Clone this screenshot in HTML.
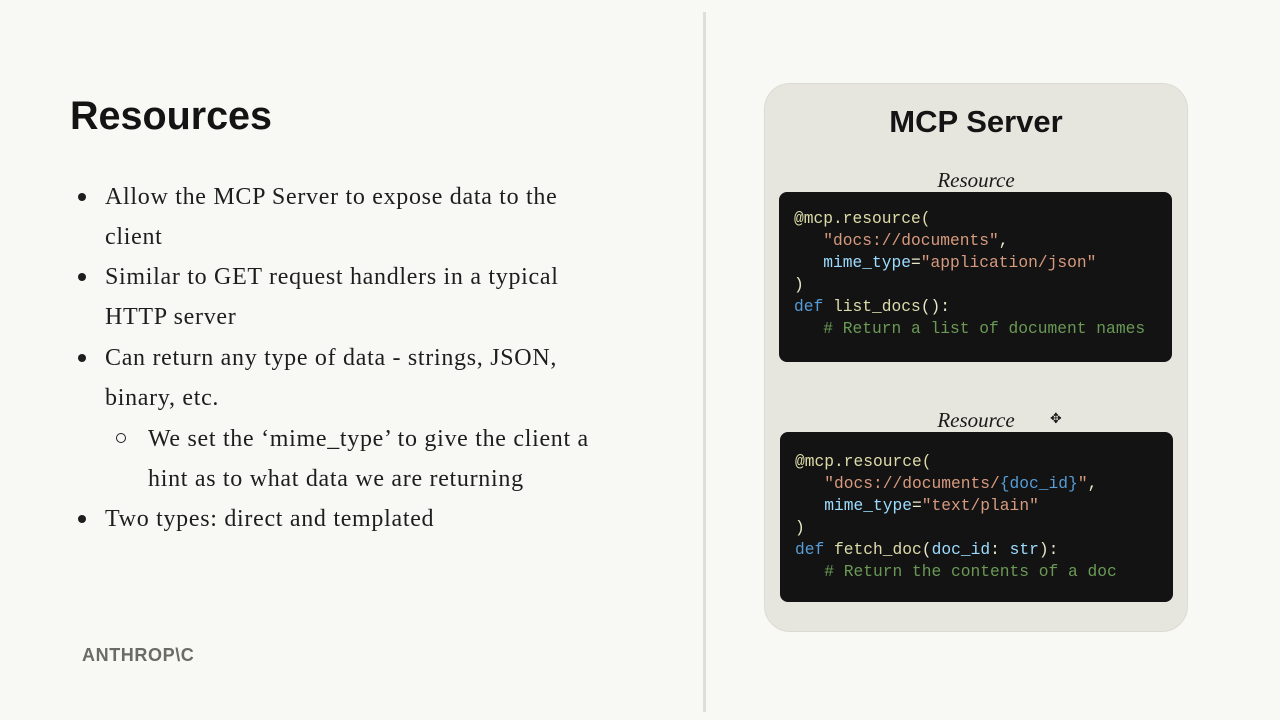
<!DOCTYPE html>
<html><head><meta charset="utf-8"><style>
*{margin:0;padding:0;box-sizing:border-box}
body{width:1280px;height:720px;background:#f8f9f5;position:relative;overflow:hidden;font-family:"Liberation Serif",serif;color:#1a1a1a}
.abs{position:absolute}
h1{position:absolute;left:70px;top:94px;font:bold 39.5px "Liberation Sans",sans-serif;color:#141414}
.li{position:absolute;font-size:24px;letter-spacing:0.7px;line-height:40px;color:#1e1e1e;white-space:nowrap}
.dot{position:absolute;width:8px;height:8px;border-radius:50%;background:#1e1e1e}
.ring{position:absolute;width:10px;height:10px;border-radius:50%;border:1.5px solid #1e1e1e}
.panel{left:764px;top:83px;width:424px;height:549px;background:#e6e5de;border-radius:26px;border:1px solid #dcdbd3}
.code{position:absolute;background:#131313;border-radius:8px;width:393px;height:170px;font:16.25px/22px "Liberation Mono",monospace;color:#e8e8c8;padding:16px 0 0 15px;white-space:pre}
.s{color:#d89a7e}.k{color:#569cd6}.v{color:#9cdcfe}.c{color:#6a9955}.f{color:#dcdcaa}
.lab{position:absolute;font:italic 21px "Liberation Serif",serif;color:#1a1a1a;width:424px;text-align:center;left:764px}
</style></head><body>
<h1>Resources</h1>
<div class="dot" style="left:78px;top:193px"></div>
<div class="li" style="left:105px;top:177px">Allow the MCP Server to expose data to the<br>client</div>
<div class="dot" style="left:78px;top:273px"></div>
<div class="li" style="left:105px;top:257px">Similar to GET request handlers in a typical<br>HTTP server</div>
<div class="dot" style="left:78px;top:354px"></div>
<div class="li" style="left:105px;top:338px">Can return any type of data - strings, JSON,<br>binary, etc.</div>
<div class="ring" style="left:116px;top:433px"></div>
<div class="li" style="left:148px;top:419px">We set the ‘mime_type’ to give the client a<br>hint as to what data we are returning</div>
<div class="dot" style="left:78px;top:515px"></div>
<div class="li" style="left:105px;top:499px">Two types: direct and templated</div>
<div class="abs" style="left:82px;top:645px;font:bold 18px 'Liberation Sans',sans-serif;color:#6b6b66;letter-spacing:0.6px">ANTHROP\C</div>
<div class="abs" style="left:703px;top:12px;width:3px;height:700px;background:#dedfd9"></div>
<div class="abs panel"></div>
<div class="abs" style="left:764px;top:104px;width:424px;text-align:center;font:bold 31px 'Liberation Sans',sans-serif;color:#141414">MCP Server</div>
<div class="lab" style="top:168px">Resource</div>
<div class="code" style="left:779px;top:192px"><span class="f">@mcp.resource(</span>
   <span class="s">"docs://documents"</span>,
   <span class="v">mime_type</span>=<span class="s">"application/json"</span>
)
<span class="k">def</span> <span class="f">list_docs</span>():
   <span class="c"># Return a list of document names</span></div>
<div class="lab" style="top:408px">Resource</div>
<div class="abs" style="left:1050px;top:411px;font:14px 'DejaVu Sans',sans-serif">✥</div>
<div class="code" style="left:780px;top:432px;padding-top:19px"><span class="f">@mcp.resource(</span>
   <span class="s">"docs://documents/</span><span class="k">{doc_id}</span><span class="s">"</span>,
   <span class="v">mime_type</span>=<span class="s">"text/plain"</span>
)
<span class="k">def</span> <span class="f">fetch_doc</span>(<span class="v">doc_id</span>: <span class="v">str</span>):
   <span class="c"># Return the contents of a doc</span></div>
</body></html>
